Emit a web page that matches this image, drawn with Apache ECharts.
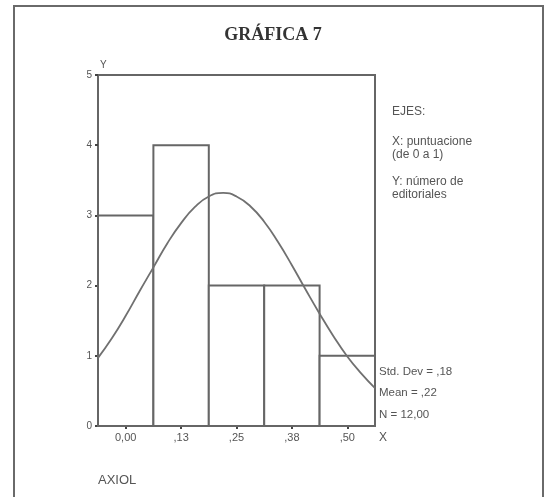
<!DOCTYPE html>
<html>
<head>
<meta charset="utf-8">
<script src="https://cdn.jsdelivr.net/npm/echarts@6/dist/echarts.min.js"></script>
<style>html,body{margin:0;padding:0;background:#fff}#c{width:547px;height:497px}</style>
</head>
<body>
<div id="c"></div>
<script>
// Histogram bins (centres) and counts
var binCenters = [0, 0.125, 0.25, 0.375, 0.5];
var binCounts = [3, 4, 2, 2, 1];
var binWidth = 0.125;
// Fitted normal curve
var curveX = [-0.0625, -0.03125, 0, 0.03125, 0.0625, 0.09375, 0.125, 0.15625, 0.1875, 0.22, 0.25, 0.28125, 0.3125, 0.34375, 0.375, 0.40625, 0.4375, 0.46875, 0.5, 0.53125, 0.5625];
var curveY = [0.97, 1.25, 1.57, 1.92, 2.26, 2.60, 2.89, 3.12, 3.27, 3.32, 3.27, 3.13, 2.91, 2.62, 2.29, 1.94, 1.60, 1.28, 0.99, 0.75, 0.54];
// Tick labels
var xTickValues = [0, 0.125, 0.25, 0.375, 0.5];
var xTickLabels = ['0,00', ',13', ',25', ',38', ',50'];
var yTicks = [0, 1, 2, 3, 4, 5];

var chart = echarts.init(document.getElementById('c'), null, {renderer: 'canvas'});
var gray = '#666';
var txt = '#555';
var font = 'Liberation Sans, Arial, sans-serif';

var histData = binCenters.map(function (c, i) { return [c, binCounts[i]]; });
var curveData = curveX.map(function (x, i) { return [x, curveY[i]]; });

chart.setOption({
  animation: false,
  backgroundColor: '#fff',
  grid: {left: 98, top: 75, right: 172, bottom: 71, show: true, borderColor: gray, borderWidth: 2, backgroundColor: 'transparent'},
  xAxis: {
    type: 'value', min: -0.0625, max: 0.5625,
    name: 'X', nameLocation: 'end', nameGap: 4,
    nameTextStyle: {color: txt, fontFamily: font, fontSize: 12, verticalAlign: 'top', padding: [6, 0, 0, 0]},
    axisLine: {show: true, onZero: false, lineStyle: {color: gray, width: 2}},
    axisTick: {show: true, length: 3, customValues: xTickValues, lineStyle: {color: '#444', width: 2}},
    axisLabel: {
      color: txt, fontFamily: font, fontSize: 11, margin: 6,
      customValues: xTickValues,
      formatter: function (v) {
        for (var i = 0; i < xTickValues.length; i++) { if (Math.abs(xTickValues[i] - v) < 1e-6) return xTickLabels[i]; }
        return '';
      }
    },
    splitLine: {show: false}
  },
  yAxis: {
    type: 'value', min: 0, max: 5, interval: 1,
    name: 'Y', nameLocation: 'end', nameGap: 5,
    nameTextStyle: {color: txt, fontFamily: font, fontSize: 10, align: 'left', padding: [0, 0, 0, 2]},
    axisLine: {show: true, onZero: false, lineStyle: {color: gray, width: 2}},
    axisTick: {show: true, length: 3, lineStyle: {color: '#444', width: 2}},
    axisLabel: {color: txt, fontFamily: font, fontSize: 10, margin: 6,
      formatter: function (v) { return yTicks.indexOf(v) >= 0 ? String(v) : ''; }},
    splitLine: {show: false}
  },
  series: [
    {
      type: 'custom',
      data: histData,
      clip: false,
      renderItem: function (params, api) {
        var c = api.value(0), h = api.value(1);
        var p1 = api.coord([c - binWidth / 2, h]);
        var p2 = api.coord([c + binWidth / 2, 0]);
        return {
          type: 'rect',
          shape: {x: p1[0], y: p1[1], width: p2[0] - p1[0], height: p2[1] - p1[1]},
          style: {fill: '#fff', stroke: gray, lineWidth: 2}
        };
      },
      z: 2
    },
    {
      type: 'line',
      data: curveData,
      smooth: true,
      symbol: 'none',
      lineStyle: {color: '#707070', width: 1.8},
      z: 3
    }
  ],
  graphic: [
    {type: 'rect', shape: {x: 14, y: 6, width: 529, height: 520}, style: {fill: 'none', stroke: '#6a6a6a', lineWidth: 2}, silent: true},
    {type: 'text', x: 273, y: 35, style: {text: 'GRÁFICA 7', font: 'bold 18px "Liberation Serif", "Times New Roman", serif', fill: '#333', align: 'center', verticalAlign: 'middle'}},
    {type: 'text', x: 392, y: 112, style: {text: 'EJES:', font: '12px ' + font, fill: txt, verticalAlign: 'middle'}},
    {type: 'text', x: 392, y: 142, style: {text: 'X: puntuaciones', font: '12px ' + font, fill: txt, verticalAlign: 'middle', width: 86, overflow: 'truncate', ellipsis: ''}},
    {type: 'text', x: 392, y: 155, style: {text: '(de 0 a 1)', font: '12px ' + font, fill: txt, verticalAlign: 'middle'}},
    {type: 'text', x: 392, y: 182, style: {text: 'Y: número de', font: '12px ' + font, fill: txt, verticalAlign: 'middle'}},
    {type: 'text', x: 392, y: 195, style: {text: 'editoriales', font: '12px ' + font, fill: txt, verticalAlign: 'middle'}},
    {type: 'text', x: 379, y: 372, style: {text: 'Std. Dev = ,18', font: '11.5px ' + font, fill: txt, verticalAlign: 'middle'}},
    {type: 'text', x: 379, y: 393, style: {text: 'Mean = ,22', font: '11.5px ' + font, fill: txt, verticalAlign: 'middle'}},
    {type: 'text', x: 379, y: 415, style: {text: 'N = 12,00', font: '11.5px ' + font, fill: txt, verticalAlign: 'middle'}},
    {type: 'text', x: 98, y: 480, style: {text: 'AXIOL', font: '13px ' + font, fill: txt, verticalAlign: 'middle'}}
  ]
});
</script>
</body>
</html>
